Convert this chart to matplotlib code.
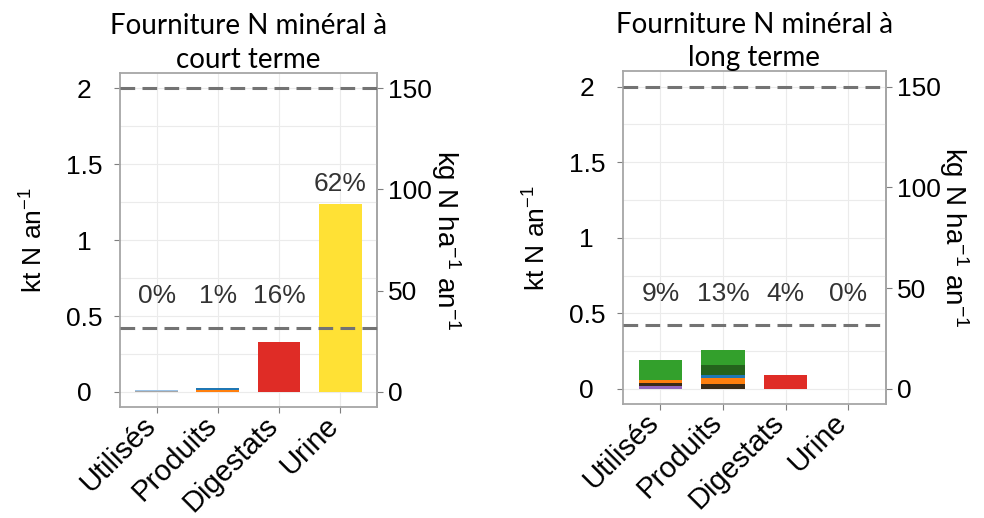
import matplotlib
matplotlib.use('Agg')
import matplotlib.pyplot as plt
import numpy as np

plt.rcParams['font.family'] = ['Liberation Sans', 'DejaVu Sans']
plt.rcParams['mathtext.default'] = 'regular'

# Categories on the x axis
categories = ['Utilisés', 'Produits', 'Digestats', 'Urine']

# Short-term mineral N supply (kt N / an), one list per stacked layer
court_layers = [
    ([0.008, 0.000, 0.00, 0.00], '#A6A6A6'),
    ([0.005, 0.000, 0.00, 0.00], '#9DC3E6'),
    ([0.000, 0.012, 0.00, 0.00], '#FF7F0E'),
    ([0.000, 0.016, 0.00, 0.00], '#1F77B4'),
    ([0.000, 0.000, 0.33, 0.00], '#DF2C26'),
    ([0.000, 0.000, 0.00, 1.24], '#FFE135'),
]
court_pct = ['0%', '1%', '16%', '62%']

# Long-term mineral N supply (kt N / an)
long_layers = [
    ([0.02, 0.00, 0.00, 0.0], '#9467BD'),
    ([0.02, 0.03, 0.00, 0.0], '#3B2A16'),
    ([0.02, 0.04, 0.00, 0.0], '#FF7F0E'),
    ([0.00, 0.02, 0.00, 0.0], '#1F77B4'),
    ([0.00, 0.065, 0.00, 0.0], '#24631C'),
    ([0.13, 0.10, 0.00, 0.0], '#33A02C'),
    ([0.00, 0.00, 0.09, 0.0], '#DF2C26'),
]
long_pct = ['9%', '13%', '4%', '0%']

# Reference levels (kt N / an)
ref_high = 2.0
ref_low = 0.42

# 1 kt N / an corresponds to 75 kg N / ha / an
KG_PER_KT = 75.0


def draw_panel(ax, layers, pct, title):
    x = np.arange(1, len(categories) + 1)
    bottom = np.zeros(len(categories))
    for values, color in layers:
        values = np.array(values)
        ax.bar(x, values, width=0.7, bottom=bottom, color=color,
               edgecolor='none', zorder=3)
        bottom += values

    for xi, total, label in zip(x, bottom, pct):
        ax.text(xi, max(total + 0.13, 0.63), label, ha='center',
                va='center', fontsize=19, color='#333333', zorder=4)

    for level in (ref_high, ref_low):
        ax.axhline(level, color='#737373', lw=2.2,
                   linestyle=(0, (4.8, 2.4)), zorder=4, clip_on=False)

    ax.set_xlim(0.4, 4.6)
    ax.set_ylim(-0.1, 2.1)
    ax.set_xticks(x)
    ax.set_xticklabels(categories, rotation=45, ha='right', va='baseline',
                       rotation_mode='anchor', fontsize=21)
    ax.set_yticks([0, 0.5, 1, 1.5, 2])
    ax.set_yticklabels(['0', '0.5', '1', '1.5', '2'], ha='center')
    ax.set_yticks(np.arange(0.25, 2.0, 0.5), minor=True)
    ax.tick_params(axis='y', which='major', labelsize=19, length=4,
                   color='#7F7F7F', pad=22)
    ax.tick_params(axis='y', which='minor', length=0)
    ax.tick_params(axis='x', length=4, color='#7F7F7F', pad=10)
    ax.grid(True, which='both', color='#EBEBEB', lw=0.8, zorder=0)
    ax.set_axisbelow(True)
    for spine in ax.spines.values():
        spine.set_color('#A6A6A6')
        spine.set_linewidth(1.3)

    ax.set_ylabel('kt N an$^{-1}$', fontsize=19, labelpad=13)
    ax.set_title(title, fontsize=20, family='Lato', pad=1, linespacing=1.38)

    sec = ax.secondary_yaxis('right',
                             functions=(lambda v: v * KG_PER_KT,
                                        lambda v: v / KG_PER_KT))
    sec.set_yticks([0, 50, 100, 150])
    sec.tick_params(labelsize=19, length=4, color='#7F7F7F', pad=4)
    sec.spines['right'].set_color('#A6A6A6')
    sec.spines['right'].set_linewidth(1.3)
    sec.set_ylabel('kg N ha$^{-1}$ an$^{-1}$', fontsize=20, rotation=270,
                   labelpad=22)


fig = plt.figure(figsize=(9.84, 5.18), dpi=100)
ax1 = fig.add_axes([0.122, 0.214, 0.261, 0.645])
ax2 = fig.add_axes([0.633, 0.220, 0.267, 0.642])

draw_panel(ax1, court_layers, court_pct,
           'Fourniture N minéral à\ncourt terme')
draw_panel(ax2, long_layers, long_pct,
           'Fourniture N minéral à\nlong terme')

fig.savefig('out.png', dpi=100)
